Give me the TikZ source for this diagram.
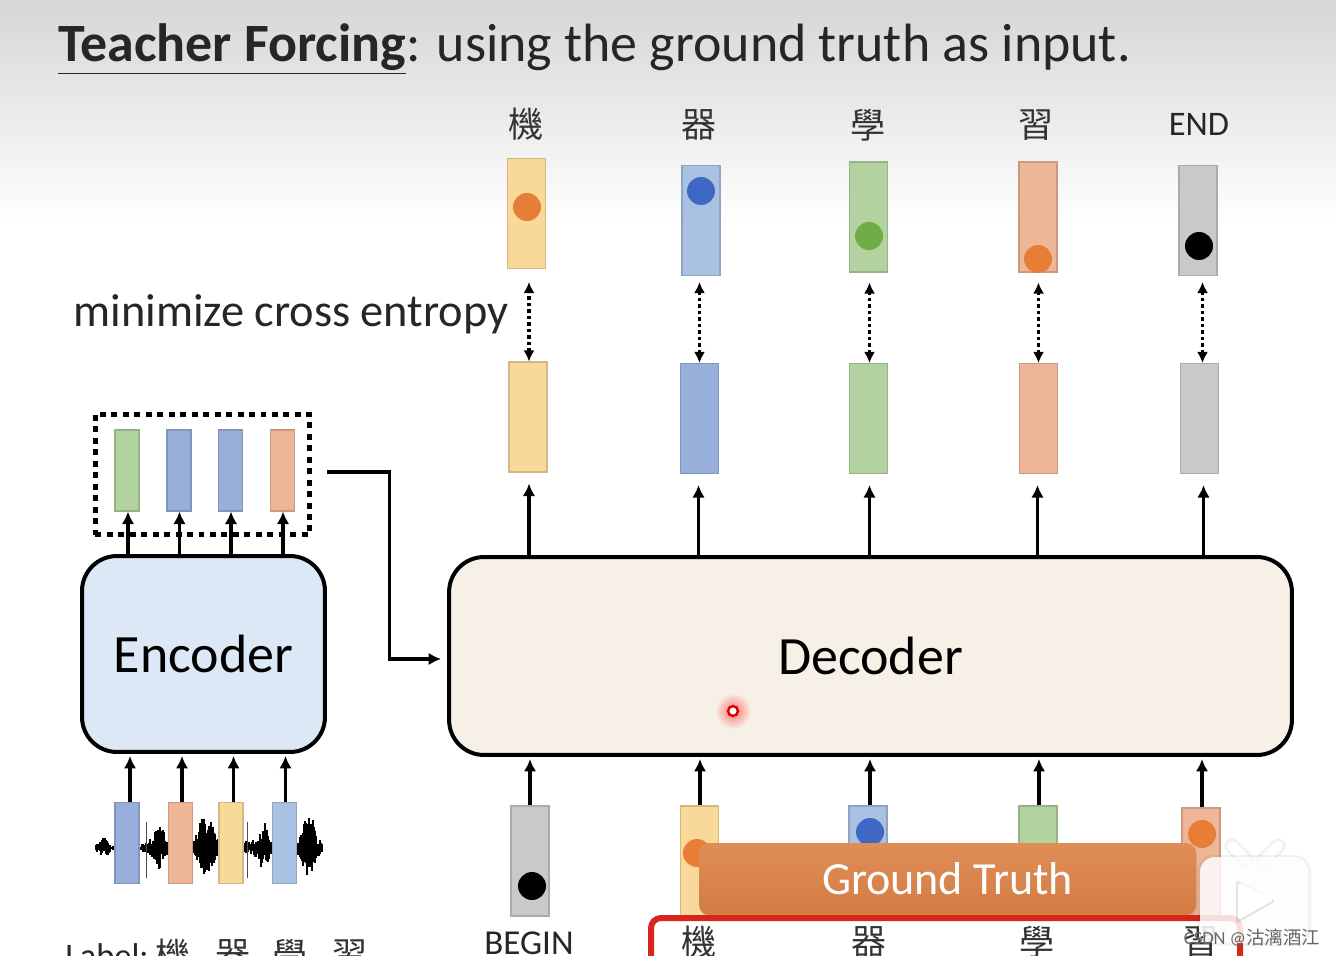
\documentclass[tikz,border=0pt]{standalone}
\usepackage{fontspec}
\setmainfont{Carlito}
\newfontfamily\cjk{Noto Sans CJK TC}
\usetikzlibrary{arrows.meta,shadows,calc}
\definecolor{baryellow}{RGB}{248,217,154}
\definecolor{barblue}{RGB}{169,193,227}
\definecolor{bardeep}{RGB}{152,174,219}
\definecolor{bargreen}{RGB}{178,210,159}
\definecolor{barorange}{RGB}{238,181,150}
\definecolor{bargray}{RGB}{201,201,201}
\definecolor{dotorange}{RGB}{230,126,55}
\definecolor{dotblue}{RGB}{62,104,196}
\definecolor{dotgreen}{RGB}{112,173,71}
\definecolor{encfill}{RGB}{220,232,246}
\definecolor{decfill}{RGB}{246,240,230}
\definecolor{truthorange}{RGB}{221,131,71}
\definecolor{framered}{RGB}{217,38,28}
\definecolor{bgtop}{RGB}{214,214,214}
\tikzset{
  vec/.style={draw=#1!85!black, fill=#1, line width=0.6pt, inner sep=0pt, minimum width=0.76cm, minimum height=2.2cm},
  smallvec/.style={draw=#1!85!black, fill=#1, line width=0.6pt, inner sep=0pt, minimum width=0.48cm, minimum height=1.62cm},
  bead/.style={circle, fill=#1, inner sep=0pt, minimum size=0.56cm},
  block/.style={draw=black, line width=0.08cm, rounded corners=0.7cm, inner sep=0pt},
  flow/.style={-{Latex[length=0.25cm,width=0.25cm]}, line width=0.075cm},
  dotflow/.style={{Latex[length=0.22cm,width=0.22cm]}-{Latex[length=0.22cm,width=0.22cm]}, line width=0.07cm, dash pattern=on 0.07cm off 0.06cm},
  word/.style={font=\cjk\fontsize{20}{20}\selectfont, text=black!80, inner sep=0pt},
  latin/.style={inner sep=0pt, text=black!85, font=\fontsize{#1}{#1}\selectfont},
}
\begin{document}
\begin{tikzpicture}[x=0.02cm,y=-0.02cm]
\useasboundingbox (0,0) rectangle (1336,956);
\clip (0,0) rectangle (1336,956);
\fill[white] (0,0) rectangle (1336,956);
\shade[top color=bgtop, bottom color=white] (0,0) rectangle (1336,225);

% Title
\node[latin=30.7, anchor=base west] (title) at (58,62)
  {\textbf{\underline{Teacher Forcing}}: using the ground truth as input.};
\node[latin=26.4] (losstext) at (291,314) {minimize cross entropy};

% Predicted words
\node[word] (wordA) at (526,124) {機};
\node[word] (wordB) at (699,125) {器};
\node[word] (wordC) at (868,125) {學};
\node[word] (wordD) at (1036,125) {習};
\node[latin=19.6] (wordE) at (1199,124) {END};

% Target bars with their beads
\node[vec=baryellow] (predA) at (526.5,213.5) {};
\node[vec=barblue]   (predB) at (701,220.5) {};
\node[vec=bargreen]  (predC) at (868.5,217) {};
\node[vec=barorange] (predD) at (1038,217) {};
\node[vec=bargray]   (predE) at (1198,220.5) {};
\node[bead=dotorange] (beadA) at (527,207) {};
\node[bead=dotblue]   (beadB) at (701,191) {};
\node[bead=dotgreen]  (beadC) at (869,236) {};
\node[bead=dotorange] (beadD) at (1038,259) {};
\node[bead=black]     (beadE) at (1199,246) {};

% Decoder output bars
\node[vec=baryellow] (outA) at (528,417) {};
\node[vec=bardeep]   (outB) at (699.5,418.5) {};
\node[vec=bargreen]  (outC) at (868.5,418.5) {};
\node[vec=barorange] (outD) at (1038.5,418.5) {};
\node[vec=bargray]   (outE) at (1199.5,418.5) {};

% Blocks
\node[block, fill=encfill, minimum width=4.86cm, minimum height=3.92cm, font=\fontsize{30.7}{30.7}\selectfont] (enc) at (203.5,654) {Encoder};
\node[block, fill=decfill, minimum width=16.86cm, minimum height=3.96cm, font=\fontsize{30.7}{30.7}\selectfont] (dec) at (870.5,656) {Decoder};

% Encoder output
\node[draw=black, line width=0.1cm, dash pattern=on 0.12cm off 0.11cm, minimum width=4.3cm, minimum height=2.42cm, inner sep=0pt] (ctxbox) at (202.5,474.5) {};
\node[smallvec=bargreen]  (ctxA) at (127,470.5) {};
\node[smallvec=bardeep]   (ctxB) at (179,470.5) {};
\node[smallvec=bardeep]   (ctxC) at (230.5,470.5) {};
\node[smallvec=barorange] (ctxD) at (282.5,470.5) {};

% Waveform
\pgfmathsetseed{17}
\draw[black, line width=0.04cm] (95,848) -- (323,848);
\foreach \x in {96,97,...,322}{
  \pgfmathsetmacro{\amp}{(1+11*exp(-((\x-104)/7)^2)+6*exp(-((\x-147)/6)^2)+26*exp(-((\x-160)/7)^2)+34*exp(-((\x-206)/10)^2)+6*exp(-((\x-247)/6)^2)+26*exp(-((\x-263)/8)^2)+36*exp(-((\x-309)/9)^2))}
  \pgfmathsetmacro{\up}{\amp*(0.2+0.8*rnd)}
  \pgfmathsetmacro{\down}{\amp*(0.2+0.6*rnd)}
  \draw[black, line width=0.6pt] (\x,848-\up) -- (\x,848+\down);
}
\draw[black!70, line width=0.5pt] (146,822) -- (146,878);
\draw[black!70, line width=0.5pt] (247,822) -- (247,878);

% Audio bars
\node[smallvec=bardeep]   (wavA) at (127,843) {};
\node[smallvec=barorange] (wavB) at (180.5,843) {};
\node[smallvec=baryellow] (wavC) at (231,843) {};
\node[smallvec=barblue]   (wavD) at (284.5,843) {};

% Decoder input bars
\node[vec=bargray]   (inA) at (530,861) {};
\node[vec=baryellow] (inB) at (699.5,861) {};
\node[vec=barblue, minimum height=1.8cm]  (inC) at (868,851) {};
\node[vec=bargreen, minimum height=1.8cm] (inD) at (1038,851) {};
\node[vec=barorange] (inE) at (1201,863) {};
\node[bead=black]     (beadF) at (532,886) {};
\node[bead=dotorange] (beadG) at (697,853) {};
\node[bead=dotblue]   (beadH) at (870,832) {};

% Connectors
\foreach \n/\gap/\dx/\ex in {A/.26/1/1,B/.12/0/-1,C/.2/1/1,D/.2/0/-1,E/.12/3/4}{
  \draw[dotflow, shorten >=\gap cm] ($(out\n.north)+(\dx,0)$) -- ($(out\n.north |- pred\n.south)+(\dx,0)$);
  \draw[flow, shorten >=0.22cm] ($(dec.north -| out\n)+(\ex,0)$) -- ($(out\n.south)+(\ex,0)$);
}
\foreach \n/\dx in {A/0,B/0.5,C/2,D/1,E/1}{
  \draw[flow, shorten >=0.04cm] ($(in\n.north)+(\dx,0)$) -- ($(in\n.north |- dec.south)+(\dx,0)$);
}
\foreach \n/\dx in {A/1,B/0.5,C/0.5,D/0.5}{
  \draw[flow] ($(enc.north -| ctx\n)+(\dx,0)$) -- ($(ctx\n.south)+(\dx,0)$);
}
\foreach \n/\dx in {A/3,B/1.5,C/2.5,D/1}{
  \draw[flow, shorten >=0.04cm] ($(wav\n.north)+(\dx,0)$) -- ($(wav\n.north |- enc.south)+(\dx,0)$);
}
\draw[flow, shorten <=0.3cm, shorten >=0.12cm] ($(ctxbox.east)+(0,-2.5)$) -- ++(77,0) |- ($(dec.west)+(0,3)$);

% Ground truth cover
\node[top color=truthorange!92!white, bottom color=truthorange!95!black, rounded corners=0.2cm, minimum width=9.94cm, minimum height=1.44cm, inner sep=0pt,
  drop shadow={opacity=0.25, shadow xshift=0.02cm, shadow yshift=-0.04cm},
  text=white, font=\fontsize{26.2}{26.2}\selectfont] (truth) at (947.5,879) {Ground Truth};
\node[bead=dotorange] (beadI) at (1202,834) {};
\draw[framered, line width=0.12cm, rounded corners=0.2cm] (651,918) rectangle (1240,1000);
\node[word] (gtA) at (699,942) {機};
\node[word] (gtB) at (869,942) {器};
\node[word] (gtC) at (1037,942) {學};
\node[word] (gtD) at (1201,942) {習};
\node[latin=19.9] (begintext) at (529,943) {BEGIN};

% Label row
\node[latin=19.6, anchor=base west] (labeltext) at (65,967) {Label:};
\node[word] (labelA) at (173,955) {機};
\node[word] (labelB) at (233,955) {器};
\node[word] (labelC) at (290,955) {學};
\node[word] (labelD) at (350,955) {習};

% Pointer
\shade[inner color=red!55, outer color=decfill] (733,711) circle (18);
\fill[white] (733,711) circle (6);
\draw[red!85!black, line width=0.05cm] (733,711) circle (5);

% Watermark
\begin{scope}[line cap=round]
\draw[black!6, line width=0.3cm] (1232,846) -- (1246,860) (1278,846) -- (1264,860);
\draw[white, line width=0.2cm] (1232,846) -- (1246,860) (1278,846) -- (1264,860);
\end{scope}
\fill[black, opacity=0.05, rounded corners=0.34cm] (1197,855) rectangle (1311,946);
\fill[white, opacity=0.85, rounded corners=0.3cm] (1200,857) rectangle (1308,943);
\fill[black, opacity=0.1, rounded corners=0.06cm] (1236,880) -- (1236,924) -- (1276,901) -- cycle;
\fill[white, rounded corners=0.06cm] (1238,882) -- (1238,920) -- (1274,900) -- cycle;
\node[inner sep=0pt, text=black!60, font=\fontsize{10.5}{10.5}\selectfont] (mark) at (1252,938) {CSDN @{\cjk 沽漓酒江}};
\end{tikzpicture}
\end{document}
